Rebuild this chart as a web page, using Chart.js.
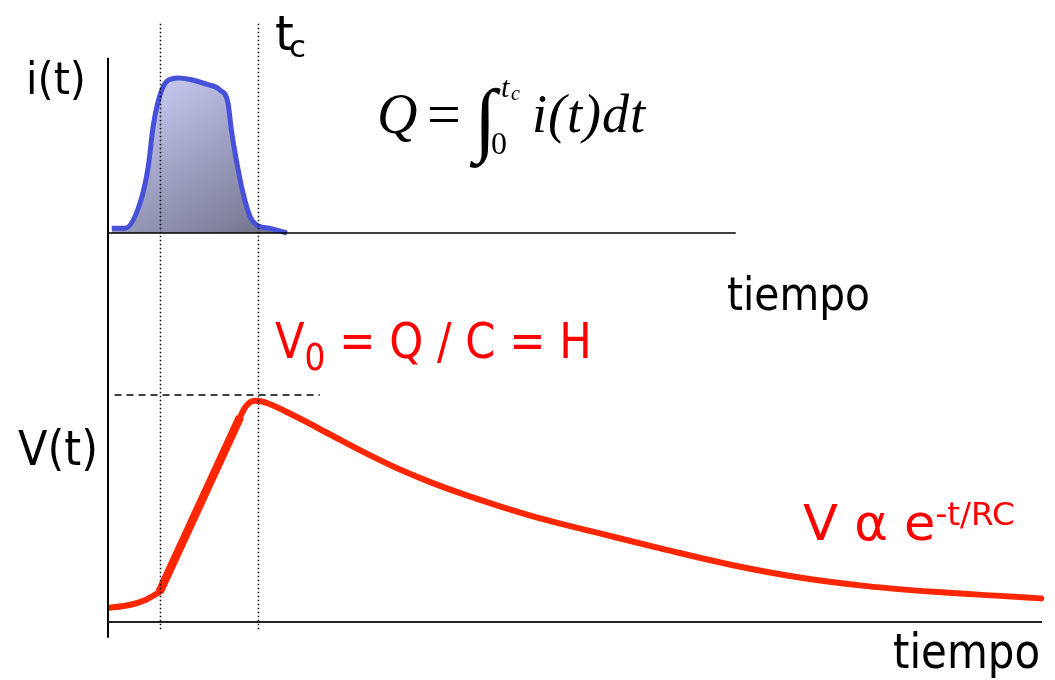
<!DOCTYPE html>
<html>
<head>
<meta charset="utf-8">
<script src="https://cdn.jsdelivr.net/npm/chart.js@4.4.1/dist/chart.umd.min.js"></script>
<style>
  body { margin: 0; background: #fff; }
  #wrap { position: relative; width: 1055px; height: 680px; overflow: hidden; }
  #pulseChart { position: absolute; left: 0; top: 0; }
  .lbl { position: absolute; white-space: nowrap; line-height: 1; font-family: "DejaVu Sans", sans-serif; color: #000; transform-origin: 0 0; }
  .red { color: #ff0000; }
  .math { font-family: "Liberation Serif", "DejaVu Serif", serif; }
  .it { font-style: italic; }
  .sub, .sup { position: relative; }
</style>
</head>
<body>
<div id="wrap">
  <canvas id="pulseChart" width="1055" height="680"></canvas>

  <!-- etiquetas de los ejes -->
  <div class="lbl" style="left:26px;top:57px;font-size:44px" data-w="60">i(t)</div>
  <div class="lbl" style="left:18px;top:424px;font-size:48px" data-w="80">V(t)</div>
  <div class="lbl" style="left:727px;top:271px;font-size:46px" data-w="143">tiempo</div>
  <div class="lbl" style="left:893px;top:627px;font-size:48px" data-w="147">tiempo</div>
  <div class="lbl" style="left:275px;top:9px;font-size:48px">t</div>
  <div class="lbl" style="left:289px;top:31px;font-size:31px">c</div>

  <!-- formula de la carga -->
  <div class="lbl math it" style="left:377px;top:86px;font-size:56px">Q</div>
  <div class="lbl math" style="left:427px;top:84px;font-size:60px">=</div>
  <div class="lbl math" style="left:474px;top:78px;font-size:82px">∫</div>
  <div class="lbl math it" style="left:501px;top:72px;font-size:30px">t</div>
  <div class="lbl math it" style="left:511px;top:83px;font-size:20px">c</div>
  <div class="lbl math" style="left:491px;top:127px;font-size:32px">0</div>
  <div class="lbl math it" style="left:532px;top:87px;font-size:54px;letter-spacing:1px">i(t)dt</div>

  <!-- textos en rojo -->
  <div class="lbl red" style="left:275px;top:316px;font-size:50px" data-w="317">V<span class="sub" style="font-size:38px;top:12px">0</span> = Q / C = H</div>
  <div class="lbl red" style="left:803px;top:498px;font-size:50px" data-w="212">V α e<span class="sup" style="font-size:32px;top:-15px">-t/RC</span></div>
</div>

<script>
// Datos (tiempo en unidades arbitrarias)
const iTime   = [0.4, 1.8, 3.4, 4.3, 4.8, 5.5, 6.3, 7.5, 8.8, 10.5, 12.0, 12.8, 13.2, 13.7, 14.4, 15.2, 15.9, 17.3, 19.1];
const iValues = [0.03, 0.03, 0.19, 0.43, 0.68, 0.88, 0.98, 1.0, 0.99, 0.96, 0.92, 0.84, 0.65, 0.47, 0.26, 0.10, 0.05, 0.03, 0.0];

const vTime   = [0, 2.3, 4.0, 5.5, 14.1, 14.6, 15.2, 15.7, 16.6, 20.1, 23.7, 27.3, 30.8, 34.4, 37.9, 41.5, 45.0, 48.6, 52.5, 59.6, 66.7, 73.8, 81.0, 88.1, 95.2, 99.6];
const vValues = [0.062, 0.075, 0.097, 0.132, 0.903, 0.943, 0.969, 0.975, 0.970, 0.904, 0.826, 0.748, 0.678, 0.616, 0.563, 0.514, 0.470, 0.430, 0.390, 0.318, 0.250, 0.196, 0.158, 0.133, 0.115, 0.104];

// tramos de V(t): antes del pulso, subida (carga) y descarga
const riseStart = 3;
const riseEnd = 4;

// marcas de tiempo: inicio del pulso y t_c
const markTimes = [5.5, 16];
const v0Level = 1;          // nivel V0 = Q / C = H
const upperAxisEnd = 67;    // fin del eje de tiempo de i(t)
const lowerAxisEnd = 99.7;  // fin del eje de tiempo de V(t)

const toPoints = (times, values, from, to) =>
  times.slice(from, to + 1).map((t, k) => ({ x: t, y: values[from + k] }));

// ajusta el ancho de los textos al de la figura
document.querySelectorAll(".lbl[data-w]").forEach((el) => {
  const w = el.getBoundingClientRect().width;
  el.style.transform = "scaleX(" + (Number(el.dataset.w) / w).toFixed(3) + ")";
});

// lineas de ejes y guias
const guidePlugin = {
  id: "guides",
  afterDatasetsDraw(chart) {
    const c = chart.ctx;
    const x = chart.scales.x, yI = chart.scales.yI, yV = chart.scales.yV;
    c.save();

    // eje vertical
    c.strokeStyle = "#000";
    c.lineWidth = 2;
    c.beginPath();
    c.moveTo(x.getPixelForValue(0), yI.getPixelForValue(1.13));
    c.lineTo(x.getPixelForValue(0), yV.getPixelForValue(-0.07));
    c.stroke();

    // eje de tiempo superior
    c.lineWidth = 1.5;
    c.beginPath();
    c.moveTo(x.getPixelForValue(0), yI.getPixelForValue(0));
    c.lineTo(x.getPixelForValue(upperAxisEnd), yI.getPixelForValue(0));
    c.stroke();

    // eje de tiempo inferior
    c.strokeStyle = "#222";
    c.lineWidth = 2;
    c.beginPath();
    c.moveTo(x.getPixelForValue(0), yV.getPixelForValue(0));
    c.lineTo(x.getPixelForValue(lowerAxisEnd), yV.getPixelForValue(0));
    c.stroke();

    // lineas punteadas verticales
    c.strokeStyle = "#000";
    c.lineWidth = 1.5;
    c.setLineDash([1.5, 2.5]);
    markTimes.forEach((t) => {
      const px = Math.round(x.getPixelForValue(t)) + 0.5;
      c.beginPath();
      c.moveTo(px, yI.getPixelForValue(1.35));
      c.lineTo(px, yV.getPixelForValue(-0.04));
      c.stroke();
    });

    // linea discontinua en V0
    c.lineWidth = 1.6;
    c.setLineDash([7, 5]);
    c.beginPath();
    c.moveTo(x.getPixelForValue(0.7), yV.getPixelForValue(v0Level));
    c.lineTo(x.getPixelForValue(22.6), yV.getPixelForValue(v0Level));
    c.stroke();

    c.restore();
  },
};

const ctx = document.getElementById("pulseChart").getContext("2d");

const vStyle = {
  yAxisID: "yV",
  borderColor: "#ff2600",
  borderWidth: 6,
  borderCapStyle: "round",
  cubicInterpolationMode: "monotone",
  pointRadius: 0,
  fill: false,
};

new Chart(ctx, {
  type: "line",
  data: {
    datasets: [
      {
        label: "i(t)",
        data: toPoints(iTime, iValues, 0, iTime.length - 1),
        yAxisID: "yI",
        borderColor: "#4650d8",
        borderWidth: 5,
        cubicInterpolationMode: "monotone",
        pointRadius: 0,
        fill: "origin",
        backgroundColor: (context) => {
          const chart = context.chart;
          if (!chart.chartArea) return "rgba(150,152,200,0.8)";
          const sx = chart.scales.x, sy = chart.scales.yI;
          const g = chart.ctx.createLinearGradient(
            sx.getPixelForValue(5), sy.getPixelForValue(1),
            sx.getPixelForValue(16), sy.getPixelForValue(0)
          );
          g.addColorStop(0, "#c8caf2");
          g.addColorStop(1, "#747690");
          return g;
        },
      },
      { ...vStyle, label: "V(t) antes", data: toPoints(vTime, vValues, 0, riseStart) },
      { ...vStyle, label: "V(t) carga", data: toPoints(vTime, vValues, riseStart, riseEnd), borderWidth: 8.5, borderCapStyle: "butt", cubicInterpolationMode: "default", tension: 0 },
      { ...vStyle, label: "V(t) descarga", data: toPoints(vTime, vValues, riseEnd, vTime.length - 1) },
    ],
  },
  options: {
    responsive: false,
    animation: false,
    events: [],
    layout: { padding: { left: 108, right: 10, top: 0, bottom: 0 }, autoPadding: false },
    plugins: {
      legend: { display: false },
      tooltip: { enabled: false },
    },
    scales: {
      x: { type: "linear", min: 0, max: 100, display: false },
      yI: { type: "linear", min: -2.884, max: 1.503, display: false },
      yV: { type: "linear", min: -0.2556, max: 2.74, display: false },
    },
  },
  plugins: [guidePlugin],
});
</script>
</body>
</html>
